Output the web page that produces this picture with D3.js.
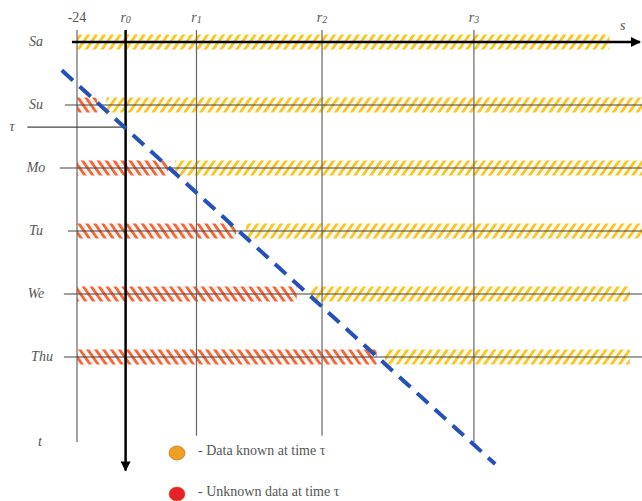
<!DOCTYPE html>
<html><head><meta charset="utf-8">
<script src="https://cdn.jsdelivr.net/npm/d3@7"></script>
<style>body{margin:0;background:#fff}svg{display:block}</style>
</head><body>
<script>
// ---- data ----
const rows = ["Sa","Su","Mo","Tu","We","Thu"];
const ticks = [{label:"-24",sub:"",h:-24},{label:"r",sub:"0",h:0},{label:"r",sub:"1",h:35},{label:"r",sub:"2",h:97},{label:"r",sub:"3",h:172}];
const lineStart = [-26.5,-30,-32.5,-28.5,-30.5,-30.5];   // hours where the row line begins
const unknownEnd = [-24,-14,21,54.5,84.5,124];          // red hatched segment end (starts at -24)
const knownStart = [-24,-9.5,24.5,59.5,91.5,128];        // yellow hatched segment start
const knownEnd = [239,255,255,255,249,249];
const deadline = [[-31.5,0.45],[182.5,6.7]];             // blue dashed "now" line (hour, row index)
const tauRow = 1.35;
const legendItems = [{color:"#f0a020",text:"- Data known at time τ"},{color:"#e8202a",text:"- Unknown data at time τ"}];

const W=642,H=501;
const svg=d3.select("body").append("svg").attr("width",W).attr("height",H);
const x=d3.scaleLinear().domain([-24,255]).range([77,642]);
const y=d3.scaleLinear().domain([0,5]).range([42,357]);

const defs=svg.append("defs");
function hatch(id,color,bg,angle){
  const p=defs.append("pattern").attr("id",id).attr("patternUnits","userSpaceOnUse")
    .attr("width",6.5).attr("height",6.5).attr("patternTransform",`rotate(${angle})`);
  p.append("rect").attr("width",6.5).attr("height",6.5).attr("fill",bg);
  p.append("rect").attr("x",0).attr("y",0).attr("width",2.8).attr("height",6.5).attr("fill",color);
}
hatch("hy","#f6c62c","#fffbec",35);
hatch("hr","#f0683a","#fff4f0",-35);
defs.append("marker").attr("id","arr").attr("viewBox","0 0 10 10").attr("refX",9).attr("refY",5)
  .attr("markerWidth",4).attr("markerHeight",4).attr("orient","auto")
  .append("path").attr("d","M0,0L10,5L0,10z").attr("fill","#000");

const serif="'Liberation Serif','DejaVu Serif',serif";
const bh=7.5;

// hatched bands
rows.forEach((r,i)=>{
  if(unknownEnd[i]>-24){
    svg.append("rect").attr("x",x(-24)).attr("y",y(i)-bh).attr("width",x(unknownEnd[i])-x(-24)).attr("height",2*bh).attr("fill","url(#hr)");
  }
  svg.append("rect").attr("x",x(knownStart[i])).attr("y",y(i)-bh).attr("width",x(knownEnd[i])-x(knownStart[i])).attr("height",2*bh).attr("fill","url(#hy)");
});

// vertical grid lines
ticks.forEach((t,i)=>{
  if(i===1) return;
  svg.append("line").attr("x1",x(t.h)).attr("x2",x(t.h)).attr("y1",y(-0.19)).attr("y2",y(i===0||i===4?6.35:6.25))
    .attr("stroke","#666").attr("stroke-width",1.2);
});

// row lines
rows.forEach((r,i)=>{
  if(i===0) return;
  svg.append("line").attr("x1",x(lineStart[i])).attr("x2",W).attr("y1",y(i)).attr("y2",y(i)).attr("stroke","#444").attr("stroke-width",1.2);
});
// tau line
svg.append("line").attr("x1",x(-48.5)).attr("x2",x(0)).attr("y1",y(tauRow)).attr("y2",y(tauRow)).attr("stroke","#444").attr("stroke-width",1.2);

// top axis s
svg.append("line").attr("x1",x(lineStart[0])).attr("x2",W-2).attr("y1",y(0)).attr("y2",y(0))
  .attr("stroke","#000").attr("stroke-width",2.5).attr("marker-end","url(#arr)");
// r0 thick arrow
svg.append("line").attr("x1",x(0)).attr("x2",x(0)).attr("y1",y(-0.19)).attr("y2",y(6.8))
  .attr("stroke","#000").attr("stroke-width",2.5).attr("marker-end","url(#arr)");

// deadline dashed line
svg.append("path").attr("d",d3.line().x(d=>x(d[0])).y(d=>y(d[1]))(deadline))
  .attr("stroke","#2450b8").attr("stroke-width",4).attr("stroke-dasharray","15,9").attr("fill","none");

// labels
const lab=svg.append("g").attr("font-family",serif).attr("fill","#555").attr("font-size",14);
ticks.forEach(t=>{
  const tx=lab.append("text").attr("x",x(t.h)).attr("y",22).attr("text-anchor","middle")
    .attr("font-style",t.sub?"italic":"normal");
  tx.append("tspan").text(t.label);
  if(t.sub) tx.append("tspan").attr("font-size",10).attr("dy",1).text(t.sub);
});
lab.append("text").attr("x",620).attr("y",30).attr("font-style","italic").text("s");
rows.forEach((r,i)=>{
  lab.append("text").attr("x",i===5?42:36).attr("y",y(i)+4).attr("text-anchor","middle").attr("font-style","italic").text(r);
});
lab.append("text").attr("x",12).attr("y",y(tauRow)+4).attr("text-anchor","middle").attr("font-style","italic").text("τ");
lab.append("text").attr("x",40).attr("y",y(6.35)+4).attr("text-anchor","middle").attr("font-style","italic").text("t");

// legend
const lg=svg.append("g").attr("font-family",serif).attr("font-size",14).attr("fill","#555");
legendItems.forEach((d,i)=>{
  const ly=453+i*41;
  lg.append("ellipse").attr("cx",177).attr("cy",ly).attr("rx",8).attr("ry",7).attr("fill",d.color).attr("stroke","#b06010").attr("stroke-width",0.6);
  lg.append("text").attr("x",198).attr("y",ly+2).text(d.text);
});
</script>
</body></html>
